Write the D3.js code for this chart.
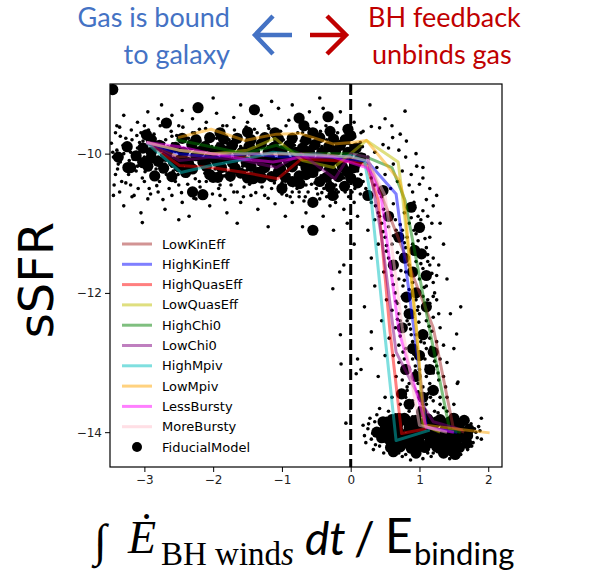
<!DOCTYPE html>
<html>
<head>
<meta charset="utf-8">
<script src="https://cdn.jsdelivr.net/npm/d3@7"></script>
<style>
  body { margin: 0; background: #fff; }
  svg { display: block; }
</style>
</head>
<body>
<div id="chart"></div>
<script>
// ---- data ----
var xTicks = [-3, -2, -1, 0, 1, 2];
var yTicks = [-14, -12, -10];

var modelNames  = ["LowKinEff", "HighKinEff", "HighQuasEff", "LowQuasEff", "HighChi0",
                   "LowChi0", "HighMpiv", "LowMpiv", "LessBursty", "MoreBursty"];
var modelColors = ["#a52a2a", "#0000ff", "#ff0000", "#bfbf00", "#008000",
                   "#800080", "#00bfbf", "#ffa500", "#ff00ff", "#ffc0cb"];

// median tracks, one per model: [x, sSFR]
var lowKinEff   = [[-2.97,-9.84],[-2.5,-10.05],[-2.0,-10.0],[-1.5,-10.05],[-1.0,-10.0],[-0.5,-10.0],[0.0,-10.05],[0.28,-10.15],[0.45,-10.6],[1.2,-12.5],[1.49,-13.93],[1.65,-14.0]];
var highKinEff  = [[-2.97,-9.84],[-2.5,-10.0],[-2.0,-10.05],[-1.5,-10.0],[-1.0,-10.05],[-0.5,-10.0],[0.0,-10.1],[0.23,-10.1],[0.66,-10.58],[0.91,-12.45],[1.1,-13.93],[1.55,-14.0]];
var highQuasEff = [[-2.97,-9.84],[-2.49,-10.17],[-2.03,-10.2],[-1.54,-10.27],[-1.06,-10.36],[-0.72,-10.08],[-0.26,-10.1],[0.03,-10.12],[0.23,-10.17],[0.4,-10.67],[0.57,-12.54],[0.74,-14.02],[1.1,-13.95]];
var lowQuasEff  = [[-2.97,-9.84],[-2.5,-9.95],[-2.0,-10.0],[-1.5,-9.95],[-1.1,-9.78],[-0.7,-10.1],[-0.25,-10.2],[0.0,-10.0],[0.23,-9.81],[0.69,-10.12],[0.76,-10.67],[0.96,-12.54],[1.05,-13.9],[1.3,-14.0]];
var highChi0    = [[-2.54,-9.8],[-2.03,-9.9],[-1.54,-10.0],[-1.08,-9.88],[-0.74,-10.0],[-0.26,-10.0],[0.03,-10.0],[0.23,-10.05],[0.6,-10.2],[0.79,-10.67],[1.15,-12.54],[1.44,-13.97],[1.6,-14.0]];
var lowChi0     = [[-2.97,-9.84],[-2.49,-10.1],[-2.03,-10.05],[-1.54,-10.1],[-1.08,-10.2],[-0.72,-10.0],[-0.23,-10.36],[0.0,-10.0],[0.25,-10.05],[0.45,-11.2],[0.66,-12.85],[1.08,-13.66],[1.2,-13.85],[1.63,-13.97]];
var highMpiv    = [[-2.97,-9.84],[-2.47,-10.27],[-2.03,-10.17],[-1.54,-10.08],[-1.13,-9.98],[-0.7,-10.02],[-0.25,-10.05],[0.0,-10.03],[0.2,-10.1],[0.3,-10.67],[0.49,-12.54],[0.66,-14.12],[1.15,-13.97]];
var lowMpiv     = [[-2.51,-9.77],[-2.03,-9.65],[-1.54,-9.81],[-1.08,-9.72],[-0.74,-9.71],[-0.26,-9.86],[0.03,-9.84],[0.23,-9.81],[0.71,-10.39],[0.78,-10.67],[0.95,-12.5],[1.08,-13.9],[2.02,-14.01]];
var lessBursty  = [[-2.97,-9.84],[-2.49,-9.9],[-2.03,-10.0],[-1.54,-10.08],[-1.13,-10.12],[-0.7,-10.05],[-0.25,-10.05],[0.23,-10.2],[0.32,-10.3],[0.45,-10.67],[0.7,-12.54],[1.1,-13.93],[1.5,-14.0]];
var moreBursty  = [[-2.97,-9.84],[-2.5,-9.95],[-2.0,-10.0],[-1.5,-10.0],[-1.0,-10.0],[-0.5,-10.02],[0.0,-10.05],[0.25,-10.1],[0.5,-10.6],[0.75,-12.5],[1.0,-13.9],[1.4,-14.0]];
var modelTracks = [lowKinEff, highKinEff, highQuasEff, lowQuasEff, highChi0,
                   lowChi0, highMpiv, lowMpiv, lessBursty, moreBursty];

// FiducialModel, big dots
var fiducial = [[-3.46,-9.08],[-2.22,-9.34],[-2.68,-9.56],[-2.97,-9.73],[-2.9,-9.8],[-1.4,-9.37],[-0.75,-9.49],[-0.68,-9.6],[-0.33,-9.47],[-0.04,-9.65],[0.0,-9.74],
  [-3.24,-10.2],[-2.85,-10.32],[-2.3,-10.55],[-2.15,-10.59],[-1.93,-10.34],[-1.42,-10.36],[-0.6,-10.17],[-0.74,-10.43],[-0.26,-10.6],[-0.55,-10.7],[-0.55,-11.1],[-0.09,-10.47],
  [0.25,-10.6],[0.47,-10.53],[0.88,-10.77],[1.0,-11.06],[1.03,-11.44],[0.93,-11.39],[0.81,-12.06],[1.0,-12.9],[0.74,-13.45],
  [-0.65,-10.3],[-0.45,-10.4],[-1.3,-10.35],[-2.05,-10.3],[-0.85,-10.4],
  [0.55,-10.9],[0.7,-11.2],[0.9,-11.7],[0.85,-12.3],[1.05,-12.6],[0.95,-13.2],[0.85,-13.6],
  [0.78,-11.5],[0.95,-12.0],[1.1,-12.2],[0.9,-12.8],[1.15,-13.1],[0.8,-13.1],[1.05,-13.5],
  [0.62,-11.6],[1.1,-11.75],[0.75,-12.5],[1.2,-12.85],[1.2,-13.4],
  [0.47,-13.85],[0.57,-14.0],[0.81,-13.83],[1.03,-13.71],[1.2,-14.02],[1.44,-13.85],[1.47,-14.27],[1.59,-13.97],[1.69,-14.16],[1.3,-14.21],[0.95,-14.1],[0.76,-14.16],
  [1.1,-13.93],[0.65,-13.95],[0.9,-13.95],[1.0,-14.2],[1.15,-14.15],[1.35,-14.0],[1.25,-13.85],[0.55,-14.1],[1.55,-14.1],[0.7,-13.8],[1.4,-14.15],[0.38,-14.0]];
// big dots packed in the dense star-forming band and in the quenched clump
var fiducialBand = "-3.25,-9.9 -3.02,-9.92 -2.78,-9.88 -2.55,-9.91 -2.31,-9.87 -2.12,-9.9 -1.9,-9.92 -1.72,-9.88 -1.48,-9.9 -1.3,-9.86 -1.12,-9.91 -0.9,-9.88 -0.7,-9.92 -0.52,-9.87 -0.32,-9.9 -0.15,-9.88 0.08,-9.92 " +
  "-3.38,-10.05 -3.12,-10.03 -2.9,-10.06 -2.68,-10.04 -2.45,-10.07 -2.25,-10.03 -2.05,-10.05 -1.82,-10.06 -1.62,-10.03 -1.38,-10.05 -1.18,-10.07 -0.98,-10.04 -0.78,-10.06 -0.6,-10.03 -0.42,-10.05 -0.25,-10.07 -0.05,-10.04 0.15,-10.06 " +
  "-3.2,-10.2 -2.95,-10.18 -2.72,-10.21 -2.5,-10.19 -2.3,-10.22 -2.1,-10.18 -1.88,-10.2 -1.68,-10.21 -1.45,-10.18 -1.25,-10.2 -1.02,-10.22 -0.85,-10.19 -0.65,-10.2 -0.48,-10.18 -0.3,-10.21 -0.12,-10.19 0.05,-10.2 " +
  "-2.6,-10.33 -2.0,-10.34 -1.75,-10.32 -1.5,-10.35 -1.15,-10.33 -0.95,-10.34 -0.75,-10.32 -0.35,-10.34 -0.18,-10.33 0.0,-10.35 " +
  "-2.9,-9.98 -2.66,-9.96 -2.43,-9.98 -2.2,-9.97 -2.0,-9.98 -1.8,-9.96 -1.58,-9.98 -1.4,-9.97 -1.2,-9.98 -1.0,-9.96 -0.8,-9.98 -0.6,-9.97 -0.42,-9.98 -0.22,-9.96 -0.04,-9.98 " +
  "-3.02,-10.13 -2.8,-10.11 -2.58,-10.12 -2.36,-10.13 -2.15,-10.12 -1.95,-10.11 -1.72,-10.13 -1.52,-10.12 -1.3,-10.11 -1.08,-10.13 -0.9,-10.12 -0.7,-10.11 -0.5,-10.13 -0.34,-10.12 -0.16,-10.11 0.08,-10.13 " +
  "-2.4,-10.27 -1.6,-10.28 -1.35,-10.27 -1.05,-10.26 -0.55,-10.27 -0.25,-10.28 -0.05,-10.26 -1.0,-10.5 -0.3,-10.48 0.1,-10.42 " +
  "-2.45,-9.78 -2.25,-9.8 -2.05,-9.77 -1.85,-9.79 -1.65,-9.78 -1.45,-9.8 -1.25,-9.77 -1.05,-9.79 -0.85,-9.78 -0.65,-9.8 -0.45,-9.77 -0.25,-9.79 -0.08,-9.8 " +
  "-1.9,-9.7 -1.5,-9.69 -1.1,-9.7 -0.55,-9.7 -0.3,-9.68";
var fiducialClump = "0.6,-13.82 0.78,-13.8 0.95,-13.83 1.12,-13.81 1.3,-13.82 1.5,-13.8 1.65,-13.83 " +
  "0.5,-13.95 0.68,-13.96 0.85,-13.94 1.02,-13.95 1.18,-13.96 1.38,-13.94 1.52,-13.95 1.72,-13.96 " +
  "0.45,-14.08 0.62,-14.07 0.8,-14.09 0.98,-14.08 1.15,-14.07 1.32,-14.09 1.48,-14.08 1.62,-14.07 " +
  "0.58,-14.22 0.72,-14.21 0.88,-14.23 1.08,-14.22 1.25,-14.21 1.42,-14.23 1.58,-14.22 " +
  "0.52,-13.88 0.69,-13.88 0.86,-13.88 1.04,-13.88 1.21,-13.88 1.4,-13.88 1.58,-13.88 0.54,-14.02 0.72,-14.02 0.9,-14.01 1.08,-14.02 1.25,-14.01 1.42,-14.02 1.58,-14.02 1.7,-14.05 " +
  "0.66,-14.15 0.84,-14.15 1.0,-14.14 1.2,-14.15 1.36,-14.15 1.52,-14.16 0.62,-14.28 0.95,-14.3 1.35,-14.3 1.52,-14.32";

// the small dots, region by region, "x,y" pairs
var bandDots = "-3.48,-9.85 -3.45,-10.05 -3.42,-10.3 -3.4,-9.95 -3.38,-10.15 -3.35,-9.75 -3.33,-10.4 -3.3,-10.0 -3.28,-10.2 -3.25,-9.9 -3.22,-10.1 -3.2,-10.45 -3.18,-9.8 -3.15,-10.0 -3.12,-10.25 -3.1,-9.92 -3.08,-10.12 -3.05,-9.7 -3.03,-10.35 -3.0,-10.05 -2.98,-9.88 -2.95,-10.18 -2.93,-10.5 -2.9,-9.95 -2.88,-10.08 -2.85,-9.78 -2.83,-10.22 -2.8,-9.9 -2.78,-10.4 -2.75,-10.02 -2.72,-9.85 -2.7,-10.15 -2.68,-10.3 -2.65,-9.95 -2.62,-10.1 -2.6,-9.75 -2.58,-10.25 -2.55,-9.88 -2.52,-10.05 -2.5,-10.45 -2.48,-9.92 -2.45,-10.18 -2.42,-9.8 -2.4,-10.0 -2.38,-10.32 -2.35,-9.9 -2.32,-10.1 -2.3,-9.7 -2.28,-10.22 -2.25,-10.02 -2.22,-9.85 -2.2,-10.4 -2.18,-10.12 -2.15,-9.95 -2.12,-10.28 -2.1,-9.82 -2.08,-10.05 -2.05,-10.18 -2.02,-9.9 -2.0,-10.35 -1.98,-10.0 -1.95,-9.78 -1.92,-10.15 -1.9,-10.45 -1.88,-9.92 -1.85,-10.08 -1.82,-10.25 -1.8,-9.85 -1.78,-10.02 -1.75,-10.38 -1.72,-9.95 -1.7,-10.2 -1.68,-9.75 -1.65,-10.1 -1.62,-10.3 -1.6,-9.9 -1.58,-10.05 -1.55,-10.48 -1.52,-9.82 -1.5,-10.15 -1.48,-10.0 -1.45,-10.28 -1.42,-9.88 -1.4,-10.12 -1.38,-10.4 -1.35,-9.95 -1.32,-10.05 -1.3,-9.78 -1.28,-10.22 -1.25,-10.0 -1.22,-10.35 -1.2,-9.9 -1.18,-10.15 -1.15,-10.5 -1.12,-9.85 -1.1,-10.08 -1.08,-10.3 -1.05,-9.95 -1.02,-10.18 -1.0,-10.42 -0.98,-9.8 -0.95,-10.05 -0.92,-10.25 -0.9,-9.92 -0.88,-10.12 -0.85,-10.55 -0.82,-9.88 -0.8,-10.2 -0.78,-10.35 -0.75,-10.0 -0.72,-9.82 -0.7,-10.28 -0.68,-10.1 -0.65,-10.45 -0.62,-9.95 -0.6,-10.05 -0.58,-10.32 -0.55,-9.85 -0.52,-10.18 -0.5,-10.5 -0.48,-10.0 -0.45,-10.22 -0.42,-9.9 -0.4,-10.1 -0.38,-10.38 -0.35,-9.8 -0.32,-10.05 -0.3,-10.28 -0.28,-9.95 -0.25,-10.15 -0.22,-10.45 -0.2,-9.88 -0.18,-10.08 -0.15,-10.3 -0.12,-9.92 -0.1,-10.2 -0.08,-10.55 -0.05,-10.0 -0.03,-9.85 0.0,-10.15 0.02,-10.35 0.05,-9.9 0.08,-10.05 0.1,-10.25 0.12,-9.95 0.15,-10.12 0.18,-10.4 0.2,-10.02 " +
  "-2.25,-9.98 -2.15,-10.08 -2.05,-9.92 -1.97,-10.22 -1.87,-10.0 -1.77,-10.12 -1.67,-9.88 -1.57,-10.18 -1.47,-9.95 -1.37,-10.25 -1.27,-10.08 -1.17,-9.9 -1.07,-10.2 -0.97,-10.1 -0.87,-9.98 -0.77,-10.15 -0.67,-9.92 -0.57,-10.2 -0.47,-10.1 -0.37,-10.22 -0.27,-10.05 -0.17,-10.18 -0.07,-10.1 0.03,-10.25 -2.3,-10.15 -2.1,-10.25 -1.9,-10.3 -1.7,-9.98 -1.5,-10.35 -1.3,-10.15 -1.1,-10.38 -0.9,-10.3 -0.7,-10.4 -0.5,-10.3 -0.3,-10.4 -0.1,-10.35 -3.0,-9.95 -2.9,-10.12 -2.8,-10.05 -2.7,-9.92 -2.6,-10.18 -2.5,-9.98 -2.4,-10.12 -3.2,-9.98 -3.1,-10.18 -3.35,-10.12 " +
  "-3.46,-9.98 -3.39,-10.22 -3.31,-9.88 -3.23,-10.3 -3.16,-10.08 -3.07,-9.84 -2.99,-10.26 -2.91,-10.04 -2.84,-10.34 -2.76,-9.96 -2.67,-10.2 -2.59,-9.86 -2.51,-10.3 -2.43,-10.08 -2.34,-9.96 -2.26,-10.36 -2.17,-9.88 -2.09,-10.14 -2.01,-10.02 -1.93,-9.86 -1.84,-10.32 -1.76,-10.1 -1.67,-10.26 -1.59,-9.96 -1.51,-10.24 -1.43,-10.06 -1.34,-9.84 -1.26,-10.3 -1.17,-10.04 -1.09,-9.96 -1.01,-10.3 -0.93,-10.16 -0.84,-9.86 -0.76,-10.06 -0.67,-10.22 -0.59,-9.9 -0.51,-10.12 -0.43,-10.32 -0.34,-9.96 -0.26,-10.34 -0.17,-9.96 -0.09,-10.28 -0.01,-10.06 0.07,-10.18 0.11,-10.4 0.17,-9.9";
var haloDots = "-3.42,-9.7 -3.36,-9.62 -3.27,-9.78 -3.19,-9.66 -3.11,-9.74 -3.02,-9.82 -2.94,-9.66 -2.86,-9.72 -2.77,-9.6 -2.69,-9.8 -2.61,-9.68 -2.53,-9.74 -2.44,-9.62 -2.36,-9.78 -2.27,-9.7 -2.19,-9.82 -2.11,-9.64 -2.03,-9.76 -1.94,-9.7 -1.86,-9.6 -1.77,-9.8 -1.69,-9.66 -1.61,-9.74 -1.52,-9.62 -1.44,-9.78 -1.36,-9.7 -1.27,-9.82 -1.19,-9.64 -1.11,-9.76 -1.02,-9.68 -0.94,-9.6 -0.86,-9.78 -0.77,-9.7 -0.69,-9.82 -0.61,-9.64 -0.52,-9.76 -0.44,-9.68 -0.36,-9.6 -0.27,-9.78 -0.19,-9.7 -0.11,-9.82 -0.02,-9.64 0.06,-9.76 0.14,-9.84 " +
  "-3.44,-10.45 -3.36,-10.55 -3.27,-10.42 -3.18,-10.62 -3.09,-10.5 -3.0,-10.4 -2.91,-10.58 -2.82,-10.46 -2.73,-10.66 -2.64,-10.5 -2.55,-10.4 -2.46,-10.56 -2.37,-10.44 -2.28,-10.64 -2.19,-10.48 -2.1,-10.4 -2.01,-10.58 -1.92,-10.5 -1.83,-10.66 -1.74,-10.45 -1.65,-10.55 -1.56,-10.62 -1.47,-10.44 -1.38,-10.56 -1.29,-10.48 -1.2,-10.64 -1.11,-10.42 -1.02,-10.52 -0.93,-10.6 -0.84,-10.46 -0.75,-10.55 -0.66,-10.62 -0.57,-10.44 -0.48,-10.58 -0.39,-10.5 -0.3,-10.6 -0.21,-10.52 -0.12,-10.44 -0.03,-10.62 0.06,-10.5 0.14,-10.58 " +
  "-0.95,-10.45 -0.88,-10.62 -0.78,-10.5 -0.62,-10.55 -0.52,-10.42 -0.42,-10.56 -0.35,-10.62 -0.18,-10.55 -0.08,-10.42 0.02,-10.55 -0.68,-10.68 -0.22,-10.7";
var outerDots = "-3.3,-9.45 -3.1,-9.55 -2.95,-9.4 -2.8,-9.5 -2.75,-9.3 -2.6,-9.45 -2.5,-9.6 -2.45,-9.38 -2.3,-9.5 -2.1,-9.55 -1.95,-9.42 -1.8,-9.6 -1.7,-9.48 -1.6,-9.3 -1.5,-9.55 -1.3,-9.45 -1.2,-9.6 -1.05,-9.35 -0.9,-9.52 -0.85,-9.3 -0.6,-9.4 -0.5,-9.55 -0.4,-9.35 -0.2,-9.55 -0.15,-9.4 -2.0,-9.2 -1.15,-9.25 -0.45,-9.2 -3.0,-9.6 -3.4,-9.6 -2.2,-9.65 -1.4,-9.65 -0.7,-9.7 -0.3,-9.68 0.05,-9.55 0.15,-9.7 " +
  "-3.45,-10.6 -3.3,-10.75 -3.15,-10.6 -3.05,-10.85 -2.95,-10.65 -2.8,-10.55 -2.7,-10.8 -2.6,-10.6 -2.45,-10.7 -2.35,-10.9 -2.25,-10.65 -2.05,-10.75 -1.9,-10.6 -1.8,-10.85 -1.7,-10.55 -1.6,-10.7 -1.45,-10.6 -1.35,-10.8 -1.25,-10.6 -1.1,-10.72 -1.0,-10.58 -0.95,-10.9 -0.85,-10.7 -0.75,-10.62 -0.65,-10.85 -0.45,-10.65 -0.4,-10.9 -0.3,-10.75 -0.2,-10.62 -0.1,-10.8 -0.05,-11.0 -3.03,-10.99 -2.5,-10.95 -1.65,-11.0 -1.2,-11.05 -0.7,-11.05 -0.25,-11.1 0.05,-10.7 0.1,-10.9";
var upperRightDots = "0.28,-9.3 0.79,-9.39 0.3,-9.61 0.42,-9.63 0.18,-9.68 0.61,-9.77 0.72,-9.72 0.47,-9.87 0.81,-9.82 0.96,-10.18 1.0,-10.44 1.1,-10.66 0.88,-10.3 0.8,-10.05 0.7,-9.95 0.55,-9.92 0.35,-9.98 0.25,-10.05 0.38,-10.2 0.3,-10.35 0.22,-10.5 0.35,-10.45 0.5,-10.3 0.62,-10.15 0.75,-10.25 0.9,-10.55 1.05,-10.35 1.15,-10.5 1.2,-10.75 1.25,-10.6 0.95,-10.0 1.05,-10.2 0.58,-10.5 0.45,-10.62 0.3,-10.7 0.4,-10.85 0.15,-10.3 0.68,-10.4 0.85,-10.45 1.12,-10.9 0.98,-10.9 0.6,-9.6 0.5,-9.5";
var fallDots = "0.45,-11.0 0.55,-11.05 0.65,-10.95 0.75,-11.1 0.85,-11.0 0.95,-11.15 1.05,-11.05 1.15,-11.2 0.5,-11.2 0.6,-11.3 0.7,-11.25 0.8,-11.35 0.9,-11.3 1.0,-11.4 1.1,-11.35 1.2,-11.5 0.55,-11.5 0.65,-11.55 0.75,-11.45 0.85,-11.6 0.95,-11.55 1.05,-11.65 1.15,-11.6 1.25,-11.75 0.6,-11.75 0.7,-11.8 0.8,-11.7 0.9,-11.85 1.0,-11.8 1.1,-11.9 1.2,-11.85 0.65,-12.0 0.75,-12.05 0.85,-11.95 0.95,-12.1 1.05,-12.05 1.15,-12.15 1.25,-12.1 0.6,-12.25 0.7,-12.3 0.8,-12.2 0.9,-12.35 1.0,-12.3 1.1,-12.4 1.2,-12.35 1.3,-12.5 0.65,-12.5 0.75,-12.55 0.85,-12.45 0.95,-12.6 1.05,-12.55 1.15,-12.65 1.25,-12.7 0.7,-12.75 0.8,-12.8 0.9,-12.7 1.0,-12.85 1.1,-12.8 1.2,-12.9 1.3,-12.95 0.7,-13.0 0.8,-13.05 0.9,-12.95 1.0,-13.1 1.1,-13.05 1.2,-13.15 1.35,-13.2 0.75,-13.25 0.85,-13.3 0.95,-13.2 1.05,-13.35 1.15,-13.3 1.25,-13.4 0.8,-13.5 0.9,-13.55 1.0,-13.45 1.1,-13.6 1.2,-13.55 1.3,-13.6 1.4,-13.5 " +
  "0.25,-11.1 0.3,-11.5 0.35,-11.9 0.45,-12.4 0.2,-12.2 0.3,-12.8 0.15,-13.1 0.4,-13.2 1.35,-11.3 1.4,-11.8 1.45,-12.3 1.5,-12.8 1.3,-11.0 1.55,-13.3 0.5,-12.9 0.35,-10.95 -0.1,-11.6 -0.15,-12.6 0.05,-11.3 0.1,-12.95 0.5,-13.5 1.6,-12.2 1.4,-13.0 -0.26,-11.94 -0.14,-13.02 -0.07,-13.87 -0.16,-11.7 0.08,-13.16 0.42,-13.66 1.56,-13.28 1.54,-12.59 1.9,-13.8 0.3,-12.56 " +
  "0.36,-10.75 0.48,-10.8 0.62,-10.72 0.78,-10.85 0.92,-10.7 1.05,-10.82 1.18,-11.0 0.4,-11.3 0.52,-11.4 0.66,-11.1 0.82,-11.2 0.98,-11.25 1.12,-11.45 1.28,-11.6 0.48,-11.7 0.62,-11.65 0.76,-11.9 0.92,-11.65 1.08,-11.75 1.22,-12.0 0.52,-12.1 0.68,-12.15 0.82,-12.4 0.98,-12.2 1.12,-12.25 1.28,-12.3 0.56,-12.65 0.72,-12.4 0.88,-12.6 1.02,-12.7 1.18,-12.55 1.35,-12.75 0.62,-12.9 0.78,-12.95 0.94,-13.05 1.08,-12.95 1.25,-13.05 1.38,-13.35 0.66,-13.2 0.82,-13.4 0.98,-13.3 1.12,-13.45 1.28,-13.25 0.72,-13.6 0.88,-13.65 1.05,-13.6 1.22,-13.7 1.35,-13.65 1.5,-13.6 0.6,-13.5 " +
  "0.42,-10.9 0.58,-10.88 0.72,-11.02 0.88,-10.92 1.02,-10.95 0.47,-11.12 0.62,-11.18 0.78,-11.28 0.92,-11.1 1.08,-11.22 0.52,-11.32 0.68,-11.42 0.83,-11.48 0.97,-11.38 1.12,-11.55 0.58,-11.62 0.73,-11.68 0.88,-11.72 1.02,-11.58 1.18,-11.72 0.62,-11.88 0.78,-11.82 0.93,-11.98 1.07,-11.92 1.2,-12.05 0.66,-12.12 0.82,-12.08 0.97,-12.25 1.12,-12.1 0.68,-12.38 0.84,-12.3 0.99,-12.42 1.14,-12.48 0.72,-12.62 0.87,-12.52 1.02,-12.62 1.17,-12.78 0.76,-12.85 0.92,-12.88 1.07,-12.72 1.22,-12.98 0.78,-13.12 0.94,-13.12 1.1,-13.2 1.27,-13.15 0.82,-13.35 0.98,-13.42 1.14,-13.38 1.3,-13.5 0.86,-13.62 1.0,-13.65 1.16,-13.5 1.4,-13.7";
var bottomDots = "0.25,-13.95 0.3,-14.1 0.35,-13.85 0.4,-14.05 0.42,-14.2 0.45,-13.95 0.5,-14.1 0.52,-13.8 0.55,-14.25 0.58,-13.95 0.6,-14.1 0.62,-13.85 0.65,-14.2 0.68,-14.0 0.7,-14.3 0.72,-13.9 0.75,-14.05 0.78,-13.75 0.8,-14.15 0.82,-13.95 0.85,-14.25 0.88,-13.85 0.9,-14.05 0.92,-14.3 0.95,-13.9 0.98,-14.0 1.0,-13.8 1.02,-14.15 1.05,-13.95 1.08,-14.25 1.1,-14.05 1.12,-13.85 1.15,-14.2 1.18,-13.95 1.2,-14.3 1.22,-14.08 1.25,-13.9 1.28,-14.15 1.3,-13.8 1.32,-14.0 1.35,-14.25 1.38,-13.9 1.4,-14.1 1.42,-13.82 1.45,-14.0 1.48,-14.35 1.5,-13.92 1.52,-14.15 1.55,-13.85 1.58,-14.05 1.6,-14.2 1.62,-13.9 1.65,-14.1 1.68,-13.95 1.7,-14.25 1.72,-14.05 1.75,-13.88 1.78,-14.15 1.82,-14.0 1.86,-13.92 " +
  "0.28,-13.8 0.33,-14.25 0.38,-13.75 0.48,-14.3 0.55,-13.7 0.65,-13.75 0.75,-14.35 0.85,-13.7 0.97,-14.35 1.07,-13.72 1.17,-14.35 1.27,-13.72 1.37,-14.32 1.47,-13.75 1.57,-14.3 1.67,-13.8 0.18,-13.9 0.22,-14.15 1.9,-14.1 0.6,-14.0 0.7,-14.12 0.8,-13.9 0.9,-14.18 1.0,-14.02 1.1,-14.12 1.2,-13.98 1.3,-14.1 1.4,-13.98 1.5,-14.05 1.6,-13.98 0.87,-14.4 1.05,-14.38 " +
  "0.2,-14.05 0.26,-13.88 0.32,-14.02 0.36,-14.18 0.44,-13.85 0.5,-13.98 0.54,-14.18 0.6,-14.28 0.66,-13.88 0.74,-14.22 0.8,-14.32 0.9,-13.78 0.96,-14.28 1.04,-13.88 1.12,-14.3 1.2,-13.82 1.26,-14.28 1.34,-13.86 1.44,-14.22 1.54,-14.25 1.64,-14.02 1.7,-13.85 1.76,-14.2 1.8,-13.95 1.84,-14.08 1.88,-13.98 1.44,-14.38 1.6,-14.32";

// ---- drawing ----
var width = 606, height = 576;
var plot = {left: 110, right: 502, top: 84, bottom: 467};

var svg = d3.select("#chart").append("svg")
	.attr("width", width)
	.attr("height", height);

var x = d3.scaleLinear().domain([-3.5, 2.2]).range([plot.left, plot.right]);
var y = d3.scaleLinear().domain([-14.5, -9.0]).range([plot.bottom, plot.top]);

function parsePairs( str ){
	return str.trim().split(/\s+/).map(function(p){
		var v = p.split(",");
		return [ +v[0], +v[1] ];
	});
}
var smallDots = [].concat( parsePairs(bandDots), parsePairs(haloDots), parsePairs(outerDots),
	parsePairs(upperRightDots), parsePairs(fallDots), parsePairs(bottomDots) );
var bigDots = fiducial.concat( parsePairs(fiducialBand), parsePairs(fiducialClump) );

svg.append("defs").append("clipPath").attr("id", "clip")
	.append("rect")
	.attr("x", plot.left).attr("y", plot.top)
	.attr("width", plot.right - plot.left).attr("height", plot.bottom - plot.top);

var layer = svg.append("g").attr("clip-path", "url(#clip)");

layer.append("g").selectAll("circle")
	.data( smallDots )
	.enter().append("circle")
		.attr("cx", function(d){ return x(d[0]); })
		.attr("cy", function(d){ return y(d[1]); })
		.attr("r", 1.8)
		.attr("fill", "#000");

layer.append("g").selectAll("circle")
	.data( bigDots )
	.enter().append("circle")
		.attr("cx", function(d){ return x(d[0]); })
		.attr("cy", function(d){ return y(d[1]); })
		.attr("r", 5.6)
		.attr("fill", "#000");

// boundary E_BH = E_binding
layer.append("line")
	.attr("x1", x(0)).attr("x2", x(0))
	.attr("y1", plot.top).attr("y2", plot.bottom)
	.attr("stroke", "#000")
	.attr("stroke-width", 3)
	.attr("stroke-dasharray", "11,4");

var line = d3.line()
	.x(function(d){ return x(d[0]); })
	.y(function(d){ return y(d[1]); });

layer.append("g").selectAll("path")
	.data( modelTracks )
	.enter().append("path")
		.attr("d", line)
		.attr("fill", "none")
		.attr("stroke", function(d, i){ return modelColors[i]; })
		.attr("stroke-opacity", 0.5)
		.attr("stroke-width", 3)
		.attr("stroke-linejoin", "round");

// frame
svg.append("rect")
	.attr("x", plot.left).attr("y", plot.top)
	.attr("width", plot.right - plot.left).attr("height", plot.bottom - plot.top)
	.attr("fill", "none")
	.attr("stroke", "#000")
	.attr("stroke-width", 1.2);

// axes
var fmt = function(d){ return d < 0 ? "\u2212" + Math.abs(d) : d; };
var gx = svg.append("g")
	.attr("transform", "translate(0," + plot.bottom + ")")
	.call( d3.axisBottom(x).tickValues(xTicks).tickSize(5).tickPadding(3).tickFormat(fmt) );
var gy = svg.append("g")
	.attr("transform", "translate(" + plot.left + ",0)")
	.call( d3.axisLeft(y).tickValues(yTicks).tickSize(5).tickPadding(3).tickFormat(fmt) );
[gx, gy].forEach(function(g){
	g.select(".domain").remove();
	g.selectAll("text").attr("font-family", "DejaVu Sans").attr("font-size", 12).attr("fill", "#222");
	g.selectAll("line").attr("stroke", "#000");
});

// legend
var legend = svg.append("g").attr("font-family", "DejaVu Sans").attr("font-size", 13);
var legY = function(i){ return 244 + i * 20.3; };
modelNames.forEach(function(name, i){
	legend.append("line")
		.attr("x1", 122).attr("x2", 152)
		.attr("y1", legY(i)).attr("y2", legY(i))
		.attr("stroke", modelColors[i])
		.attr("stroke-opacity", 0.5)
		.attr("stroke-width", 3);
	legend.append("text")
		.attr("x", 162).attr("y", legY(i)).attr("dy", "0.35em")
		.text(name);
});
legend.append("circle")
	.attr("cx", 137).attr("cy", legY(10)).attr("r", 5)
	.attr("fill", "#000");
legend.append("text")
	.attr("x", 162).attr("y", legY(10)).attr("dy", "0.35em")
	.text("FiducialModel");

// y label
svg.append("text")
	.attr("transform", "translate(53,280) rotate(-90)")
	.attr("text-anchor", "middle")
	.attr("font-family", "DejaVu Sans")
	.attr("font-size", 48)
	.text("sSFR");

// x label, built from pieces
var xl = svg.append("g").attr("fill", "#000");
xl.append("text").attr("x", 94).attr("y", 556)
	.attr("font-family", "Liberation Serif").attr("font-size", 46).text("\u222B");
xl.append("text").attr("x", 128).attr("y", 553)
	.attr("font-family", "Liberation Serif").attr("font-style", "italic").attr("font-size", 46).text("\u0116");
xl.append("text").attr("x", 161).attr("y", 565)
	.attr("font-family", "Liberation Serif").attr("font-size", 33)
	.html("BH wind<tspan font-style='italic'>s</tspan>");
xl.append("text").attr("x", 305).attr("y", 555)
	.attr("font-family", "Lato").attr("font-style", "italic").attr("font-size", 46).text("dt");
xl.append("text").attr("x", 354).attr("y", 555)
	.attr("font-family", "Lato").attr("font-size", 46).text("/");
xl.append("text").attr("x", 385).attr("y", 553)
	.attr("font-family", "Lato").attr("font-size", 48).text("E");
xl.append("text").attr("x", 414).attr("y", 565)
	.attr("font-family", "Lato").attr("font-size", 31).text("binding");

// header
var header = svg.append("g").attr("font-family", "Lato").attr("font-size", 27);
header.append("text").attr("x", 230).attr("y", 27).attr("text-anchor", "end")
	.attr("fill", "#4472c4").text("Gas is bound");
header.append("text").attr("x", 230).attr("y", 64).attr("text-anchor", "end")
	.attr("fill", "#4472c4").text("to galaxy");
header.append("text").attr("x", 368).attr("y", 27)
	.attr("fill", "#c00000").text("BH feedback");
header.append("text").attr("x", 372).attr("y", 64)
	.attr("fill", "#c00000").text("unbinds gas");

header.append("path")
	.attr("d", "M292,35 L255,35 M273,16 L255,35 L273,54")
	.attr("fill", "none").attr("stroke", "#4472c4").attr("stroke-width", 4.5);
header.append("path")
	.attr("d", "M310,35 L346,35 M327,16 L346,35 L327,54")
	.attr("fill", "none").attr("stroke", "#c00000").attr("stroke-width", 4.5);
</script>
</body>
</html>
